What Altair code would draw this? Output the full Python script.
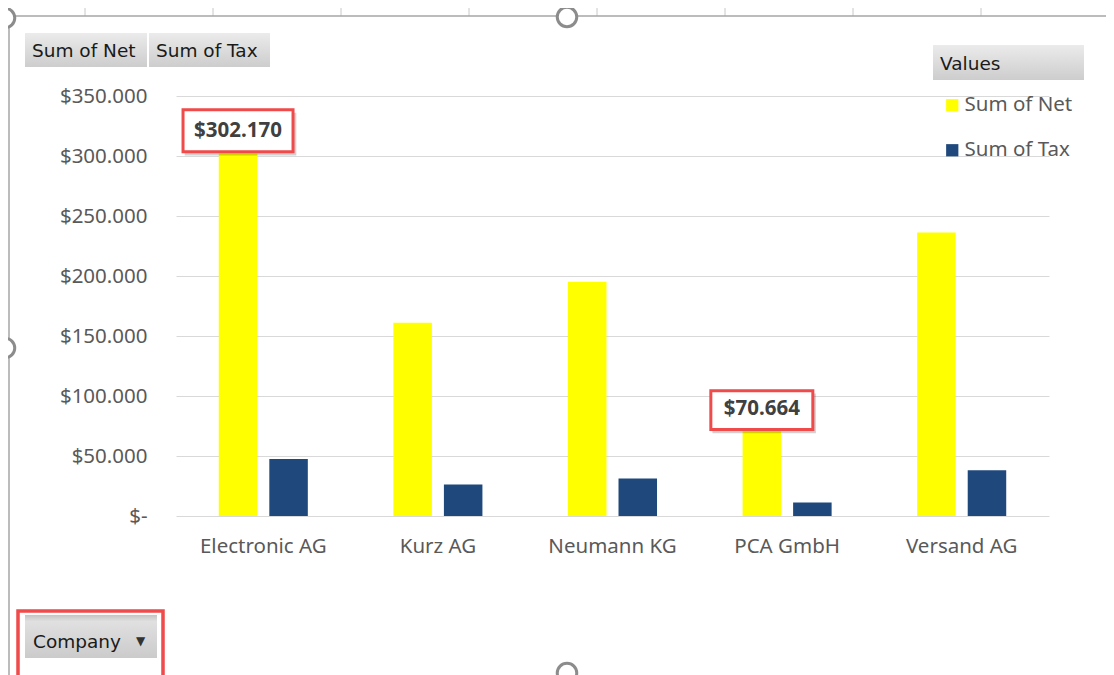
import altair as alt
import pandas as pd

# ---- data ----
companies = ["Electronic AG", "Kurz AG", "Neumann KG", "PCA GmbH", "Versand AG"]
net = [302170, 161000, 195200, 70664, 236200]
tax = [47400, 26200, 31200, 11200, 38100]
series = ["Sum of Net", "Sum of Tax"]
labeled = ["Electronic AG", "PCA GmbH"]
y_ticks = [0, 50000, 100000, 150000, 200000, 250000, 300000, 350000]
field_buttons = ["Sum of Net", "Sum of Tax"]
legend_title = "Values"
axis_button = "Company"

rows = []
for c, n, t in zip(companies, net, tax):
    rows.append({"company": c, "series": series[0], "value": n})
    rows.append({"company": c, "series": series[1], "value": t})
df = pd.DataFrame(rows)
dummy = pd.DataFrame({"a": [0]})

W, H = 873, 420
FONT = "Noto Sans"
BTN_FONT = "DejaVu Sans"
GRAY = "#595959"
FS = 20.5

x = alt.X("company:N", sort=companies,
          scale=alt.Scale(paddingInner=0.49, paddingOuter=0.245),
          axis=alt.Axis(title=None, labelAngle=0, labelFont=FONT, labelFontSize=FS,
                        labelColor=GRAY, labelPadding=20, domain=False, ticks=False))
xo = alt.XOffset("series:N", sort=series,
                 scale=alt.Scale(domain=series, paddingInner=0.238, paddingOuter=0))
y = alt.Y("value:Q", scale=alt.Scale(domain=[0, 350000], nice=False),
          axis=alt.Axis(title=None, values=y_ticks,
                        labelExpr="datum.value == 0 ? '$-  ' : '$' + replace(format(datum.value, ',.0f'), ',', '.')",
                        grid=True, gridColor="#D9D9D9", gridWidth=1.2, domain=False,
                        ticks=False, tickSize=0, labelPadding=29, labelFont=FONT,
                        labelFontSize=FS, labelColor=GRAY))
color = alt.Color("series:N", sort=series,
                  scale=alt.Scale(domain=series, range=["#FFFF00", "#1F497D"]),
                  legend=alt.Legend(title=None, orient="none", legendX=766, legendY=-1,
                                    symbolType="square", symbolSize=150, symbolStrokeWidth=0,
                                    labelFont=FONT, labelFontSize=FS, labelColor=GRAY,
                                    rowPadding=24, labelOffset=2, padding=0))

bars = alt.Chart(df).mark_bar().encode(x=x, xOffset=xo, y=y, color=color)

lab_base = (alt.Chart(df)
            .transform_filter(alt.FieldOneOfPredicate(field="company", oneOf=labeled))
            .transform_filter(alt.datum.series == series[0])
            .transform_calculate(label="'$' + replace(format(datum.value, ',.0f'), ',', '.')")
            .transform_calculate(box="pow(46 + 8 * length(datum.label), 2)"))

box_path = "M -1 -0.795 L 1 -0.795 L 1 -0.031 L -1 -0.031 Z"
shadow_path = "M -0.97 -0.74 L 1.06 -0.74 L 1.06 0.04 L -0.97 0.04 Z"
enc = dict(x=x, xOffset=xo, y=y, size=alt.Size("box:Q", scale=None, legend=None))
shadow = lab_base.mark_point(shape=shadow_path, filled=True, fill="#000000",
                             opacity=0.18, strokeWidth=0).encode(**enc)
box = lab_base.mark_point(shape=box_path, filled=True, fill="white", stroke="#F04A4A",
                          strokeWidth=3, opacity=1).encode(**enc)
text = lab_base.mark_text(dy=-22, font=FONT, fontSize=FS, fontWeight="bold",
                          color="#404040", baseline="middle").encode(
    x=x, xOffset=xo, y=y, text="label:N")

grad = alt.LinearGradient(gradient="linear",
                          stops=[alt.GradientStop(offset=0, color="#EBEBEB"),
                                 alt.GradientStop(offset=1, color="#CDCDCD")],
                          x1=0, x2=0, y1=0, y2=1)
grad2 = alt.LinearGradient(gradient="linear",
                           stops=[alt.GradientStop(offset=0, color="#C4C4C4"),
                                  alt.GradientStop(offset=0.15, color="#E0E0E0"),
                                  alt.GradientStop(offset=1, color="#CBCBCB")],
                           x1=0, x2=0, y1=0, y2=1)

def rect(x1, x2, y1, y2, **kw):
    return alt.Chart(dummy).mark_rect(**kw).encode(
        x=alt.value(x1), x2=alt.value(x2), y=alt.value(y1), y2=alt.value(y2))

def label(s, xx, yy, **kw):
    return alt.Chart(dummy).mark_text(align="left", baseline="middle", **kw).encode(
        x=alt.value(xx), y=alt.value(yy), text=alt.value(s))

def handle(xx, yy):
    return alt.Chart(dummy).mark_point(shape="circle", filled=True, fill="white",
                                       stroke="#8C8C8C", strokeWidth=3, size=380,
                                       opacity=1).encode(x=alt.value(xx), y=alt.value(yy))

def frame_tick(xx):
    return alt.Chart(dummy).mark_rule(color="#C8C8C8", strokeWidth=1).encode(
        x=alt.value(xx), y=alt.value(-91), y2=alt.value(-80))

btn_kw = dict(font=BTN_FONT, fontSize=18.5, color="#1A1A1A")
deco = [
    # frame of the chart object
    *[frame_tick(-91 + 128 * k) for k in range(8)],
    alt.Chart(dummy).mark_rule(color="#A6A6A6", strokeWidth=1.5).encode(
        x=alt.value(-168), x2=alt.value(940), y=alt.value(-80)),
    alt.Chart(dummy).mark_rule(color="#A6A6A6", strokeWidth=1.5).encode(
        x=alt.value(-167), y=alt.value(-80), y2=alt.value(600)),
    handle(391, -79), handle(-171, 252), handle(391, 577), handle(-171, -78),
    # pivot field buttons
    rect(-151, -29, -63, -29, fill=grad),
    rect(-27, 94, -63, -29, fill=grad),
    label(field_buttons[0], -144, -45, **btn_kw),
    label(field_buttons[1], -20, -45, **btn_kw),
    rect(757, 908, -51, -16, fill=grad),
    label(legend_title, 764, -32, **btn_kw),
    rect(-151, -19, 519, 562, fill=grad2),
    rect(-158, -13, 515, 590, fill=None, stroke="#F04A4A", strokeWidth=3.5),
    label(axis_button, -143, 546, **btn_kw),
    label("\u25BC", -40, 545, font=BTN_FONT, fontSize=12, color="#333333"),
]

chart = alt.layer(bars, shadow, box, text, *deco).properties(
    width=W, height=H,
    autosize=alt.AutoSizeParams(type="none"),
    padding={"left": 168, "top": 88, "right": 57, "bottom": 159},
    background="white",
).configure_view(stroke=None)

chart.save("out.html", embed_options={"renderer": "svg", "actions": False})
